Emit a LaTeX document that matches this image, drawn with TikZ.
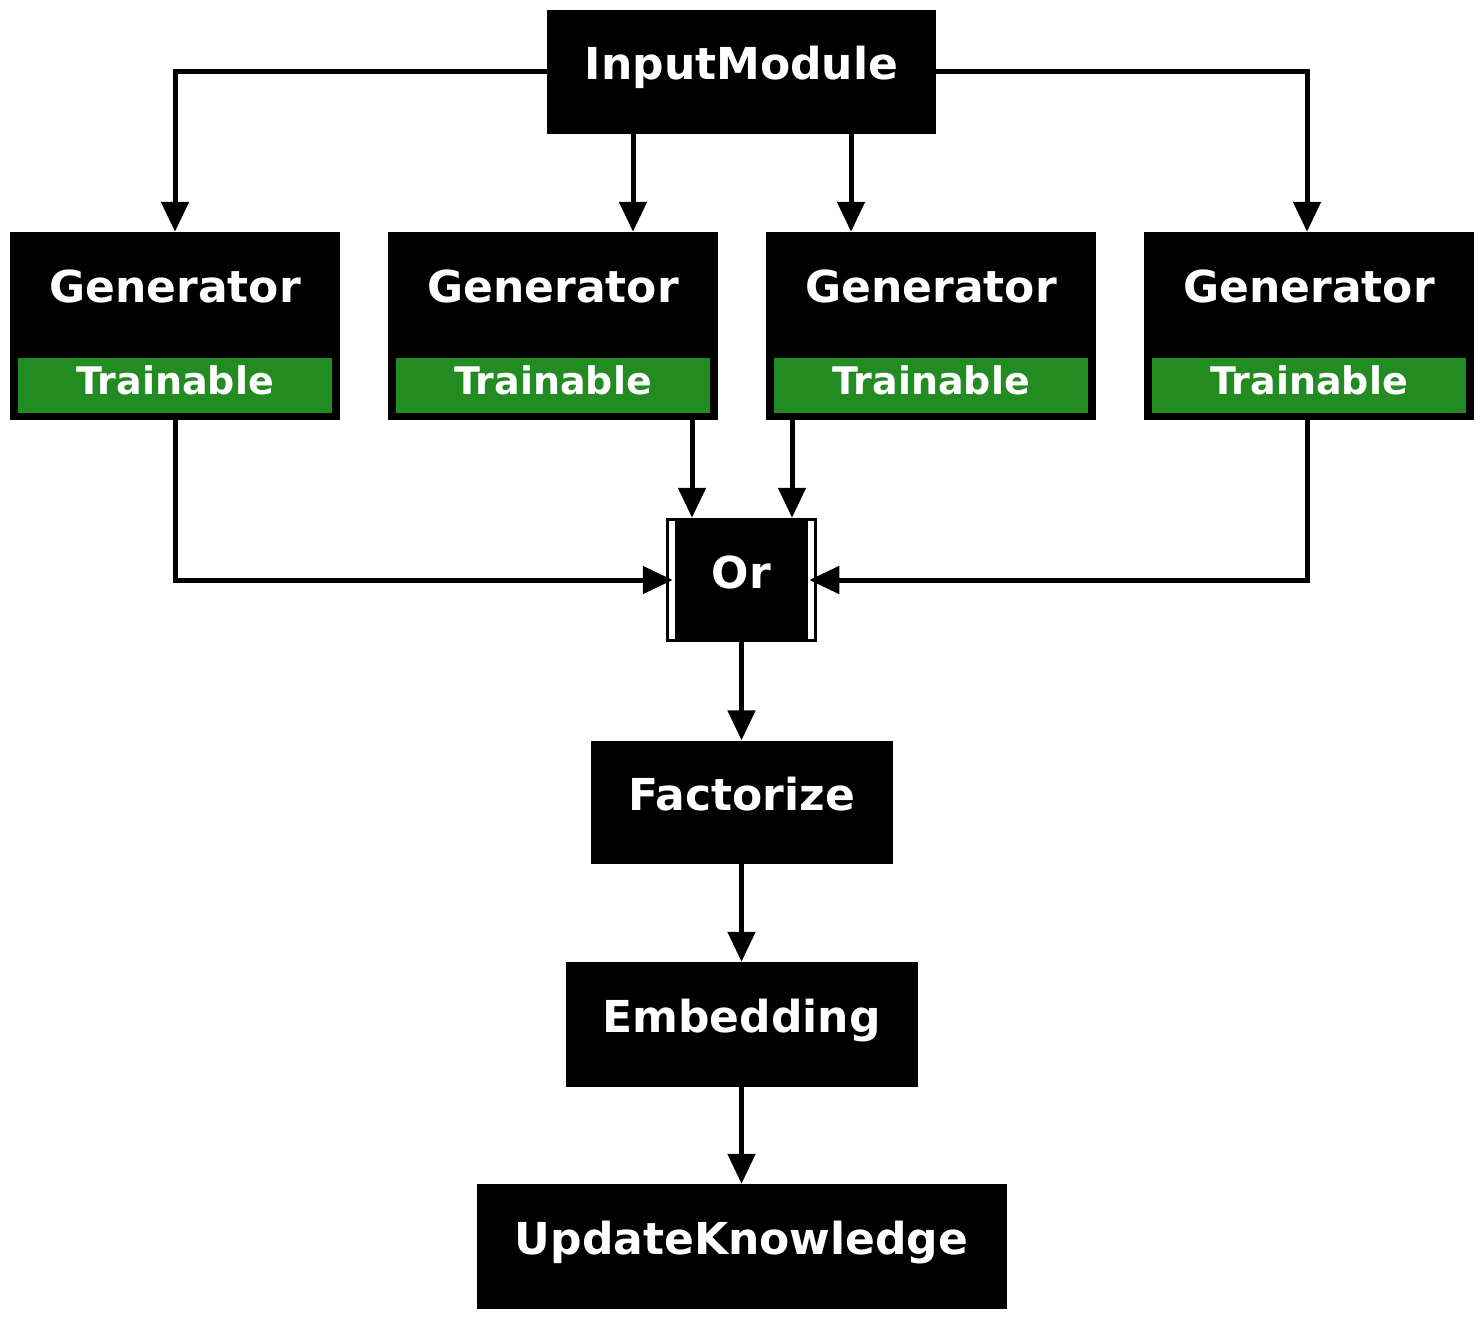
\documentclass[tikz,border=0pt]{standalone}
\usepackage{fontspec}
\setmainfont{DejaVu Sans}
\usepackage{xcolor}
\usetikzlibrary{arrows.meta}
\definecolor{trainGreen}{HTML}{228B22}
\tikzset{
    tnode/.style = {align=center, inner sep=0pt, text centered, white, font=\bfseries\fontsize{44}{50}\selectfont, text height=32pt, text depth=16pt},
    black_node/.style = {tnode, rectangle, fill=black},
    or_node/.style = {tnode, rectangle, fill=black, draw=black, line width=1.5pt, minimum width=150pt, minimum height=123pt},
    gen_node/.style = {rectangle, fill=black, inner sep=0pt, minimum width=330pt, minimum height=188pt},
    gen_text/.style = {tnode, anchor=base},
    train_node/.style = {tnode, rectangle, fill=trainGreen, anchor=south, minimum width=314pt, minimum height=55pt, font=\bfseries\fontsize{38}{44}\selectfont, text height=28pt, text depth=11pt},
    flow/.style = {->, line width=5pt}
}

\begin{document}
\begin{tikzpicture}[x=1pt, y=-1pt, >={Triangle[length=30pt, width=27pt]}]
    \useasboundingbox (0,0) rectangle (1483,1319);
    \node [black_node, minimum width=389pt, minimum height=124pt] (input) at (741.5,72) {InputModule};
    % generators
    \node [gen_node] (g1) at (175,326) {};
    \node [gen_node] (g2) at (553,326) {};
    \node [gen_node] (g3) at (931,326) {};
    \node [gen_node] (g4) at (1309,326) {};
    \node [gen_text] (gt1) at ([yshift=-71pt]g1.north) {Generator};
    \node [gen_text] (gt2) at ([yshift=-71pt]g2.north) {Generator};
    \node [gen_text] (gt3) at ([yshift=-71pt]g3.north) {Generator};
    \node [gen_text] (gt4) at ([yshift=-71pt]g4.north) {Generator};
    \node [train_node] (tr1) at ([yshift=7pt]g1.south) {Trainable};
    \node [train_node] (tr2) at ([yshift=7pt]g2.south) {Trainable};
    \node [train_node] (tr3) at ([yshift=7pt]g3.south) {Trainable};
    \node [train_node] (tr4) at ([yshift=7pt]g4.south) {Trainable};
    % or
    \node [or_node] (or) at (741.5,580) {Or};
    \fill [white] ([xshift=3pt, yshift=-3pt]or.north west) rectangle ([xshift=9pt, yshift=3pt]or.south west);
    \fill [white] ([xshift=-3pt, yshift=-3pt]or.north east) rectangle ([xshift=-9pt, yshift=3pt]or.south east);
    \node [black_node, minimum width=302pt, minimum height=123pt] (factorize) at (741.5,802) {Factorize};
    \node [black_node, minimum width=352pt, minimum height=125pt] (embedding) at (741.5,1024.5) {Embedding};
    \node [black_node, minimum width=530pt, minimum height=125pt] (update) at (741.5,1246.5) {UpdateKnowledge};
    % edges
    \draw [flow] (input.west) -| (g1.north);
    \draw [flow] ([xshift=-108.5pt]input.south) -- ([xshift=80pt]g2.north);
    \draw [flow] ([xshift=109.5pt]input.south) -- ([xshift=-80pt]g3.north);
    \draw [flow] (input.east) -| ([xshift=-2pt]g4.north);
    \draw [flow] (g1.south) |- ([xshift=7pt]or.west);
    \draw [flow] ([xshift=139pt]g2.south) -- ([xshift=-49.5pt]or.north);
    \draw [flow] ([xshift=-139pt]g3.south) -- ([xshift=50.5pt]or.north);
    \draw [flow] ([xshift=-2pt]g4.south) |- ([xshift=-8pt]or.east);
    \draw [flow] (or) -- (factorize);
    \draw [flow] (factorize) -- (embedding);
    \draw [flow] (embedding) -- (update);
\end{tikzpicture}
\end{document}
